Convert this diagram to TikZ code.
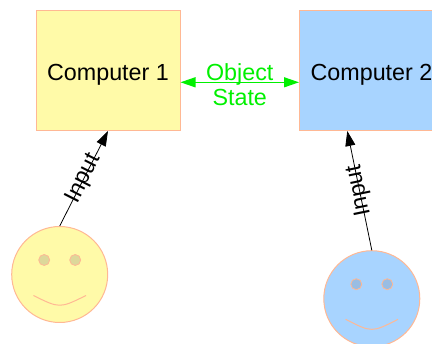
\documentclass[tikz,border=0pt]{standalone}
\usepackage{fontspec}
\setmainfont{Liberation Sans}
\usetikzlibrary{arrows.meta}
\definecolor{yfill}{HTML}{FFFAA8}
\definecolor{bfill}{HTML}{A8D4FF}
\definecolor{edgecol}{HTML}{FFB894}
\definecolor{yeye}{HTML}{DDD89A}
\definecolor{beye}{HTML}{99BDE3}
\definecolor{lime}{HTML}{00F000}
\begin{document}
\begin{tikzpicture}[x=1pt,y=-1pt,
  comp/.style={draw=edgecol, line width=1pt, minimum width=144pt, minimum height=120pt,
    inner sep=0pt, text height=21pt, text depth=0pt, font=\fontsize{23.3}{26}\selectfont},
  face/.style={circle, draw=edgecol, line width=1pt, minimum size=96pt, inner sep=0pt},
  eye/.style={circle, draw=edgecol, line width=0.8pt, minimum size=11pt, inner sep=0pt},
  smile/.style={draw=edgecol, line width=1pt},
  lbl/.style={font=\fontsize{23.3}{26}\selectfont, inner sep=0pt},
  tipstyle/.style={Triangle[length=15pt,width=10pt]},
  inarrow/.style={draw=black, line width=0.8pt, -{Triangle[length=15pt,width=10pt]}},
  statearrow/.style={draw=lime, line width=1.2pt,
    {Triangle[length=15pt,width=10pt]}-{Triangle[length=15pt,width=10pt]}},
]
\useasboundingbox (0,0) rectangle (432,344);
% computers
\node[comp, fill=yfill] (c1) at (108,70.5) {Computer 1};
\node[comp, fill=bfill] (c2) at (371.5,70.5) {Computer 2};
% smileys
\node[face, fill=yfill] (s1) at (59.7,274.5) {};
\node[eye, fill=yeye] (s1l) at (44.2,260) {};
\node[eye, fill=yeye] (s1r) at (75.2,260) {};
\draw[smile] (33.4,295.5) .. controls (59.7,308.5) .. (86,295.5);
\node[face, fill=bfill] (s2) at (371.8,298.7) {};
\node[eye, fill=beye] (s2l) at (356.3,284.2) {};
\node[eye, fill=beye] (s2r) at (387.3,284.2) {};
\draw[smile] (345.6,319.3) .. controls (371.8,332.7) .. (398,319.3);
% object state
\draw[statearrow] ([yshift=-11.8pt]c1.east) --
  node[lbl, anchor=base, yshift=1.8pt, text=lime] (obj) {Object}
  node[lbl, anchor=base, yshift=-23.2pt, text=lime] (st) {State}
  ([yshift=-11.8pt]c2.west);
% inputs
\draw[inarrow] (s1.north) -- node[lbl, sloped, allow upside down, midway] (in1) {Input} (c1.south);
\draw[inarrow] (s2.north) -- node[lbl, sloped, allow upside down, midway] (in2) {Input} ([xshift=-24.2pt]c2.south);
\end{tikzpicture}
\end{document}
